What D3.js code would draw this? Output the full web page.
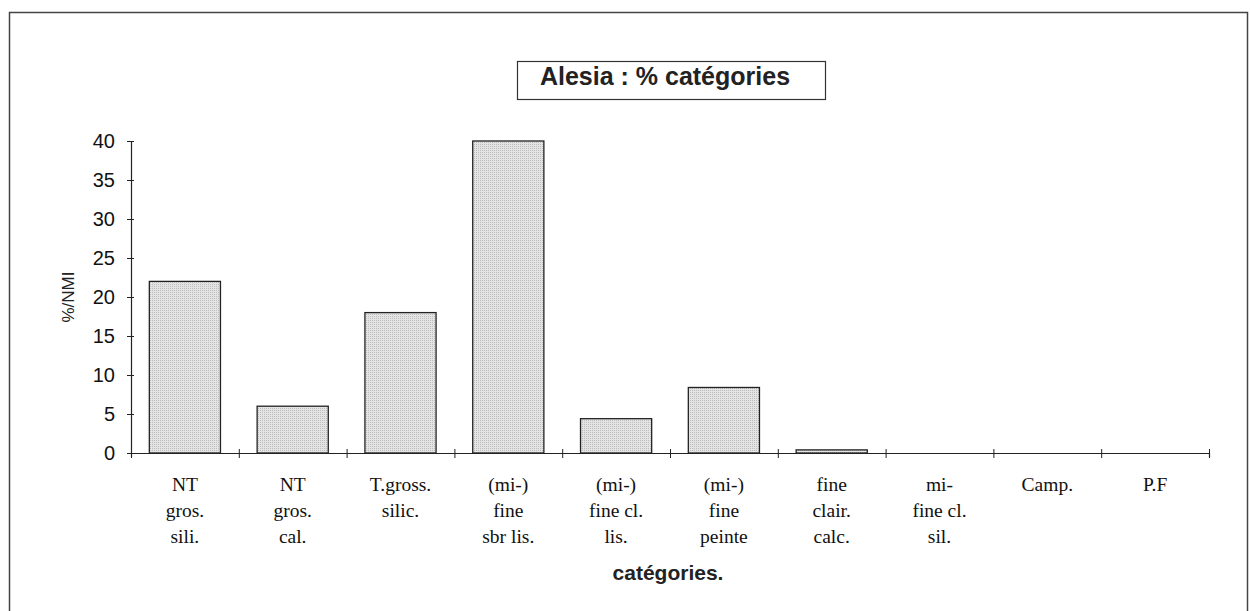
<!DOCTYPE html>
<html>
<head>
<meta charset="utf-8">
<script src="https://cdn.jsdelivr.net/npm/d3@7"></script>
<style>
    body { margin: 0; background: #fff; }
    svg { display: block; }
</style>
</head>
<body>
<div id="chart"></div>
<script>
// data
const categories = [
    ['NT', 'gros.', 'sili.'],
    ['NT', 'gros.', 'cal.'],
    ['T.gross.', 'silic.'],
    ['(mi-)', 'fine', 'sbr lis.'],
    ['(mi-)', 'fine cl.', 'lis.'],
    ['(mi-)', 'fine', 'peinte'],
    ['fine', 'clair.', 'calc.'],
    ['mi-', 'fine cl.', 'sil.'],
    ['Camp.'],
    ['P.F']
];
const values = [22, 6, 18, 40, 4.4, 8.4, 0.4, 0, 0, 0];
const yTicks = [0, 5, 10, 15, 20, 25, 30, 35, 40];

const width = 1250, height = 611;
const plotLeft = 131, plotRight = 1209, plotTop = 141, plotBottom = 453;

const svg = d3.select('#chart')
    .append('svg')
    .attr('width', width)
    .attr('height', height);

// dotted grey fill like the printed bars
const defs = svg.append('defs');
const pat = defs.append('pattern')
    .attr('id', 'dots')
    .attr('width', 2).attr('height', 2)
    .attr('patternUnits', 'userSpaceOnUse');
pat.append('rect').attr('width', 2).attr('height', 2).attr('fill', '#e4e4e4');
pat.append('rect').attr('width', 1).attr('height', 1).attr('fill', '#bdbdbd');

// outer frame (right / bottom fall outside the scan)
svg.append('rect')
    .attr('x', 9.5).attr('y', 12.5)
    .attr('width', 1238).attr('height', 640)
    .attr('fill', 'none')
    .attr('stroke', '#444')
    .attr('stroke-width', 1.5);

const keys = d3.range(categories.length);
const x = d3.scaleBand()
    .domain(keys)
    .range([plotLeft, plotRight])
    .paddingInner(0.34)
    .paddingOuter(0.17);
const xEdge = d3.scaleLinear().domain([0, categories.length]).range([plotLeft, plotRight]);
const y = d3.scaleLinear().domain([0, 40]).range([plotBottom, plotTop]);

// bars
svg.append('g')
    .selectAll('rect')
    .data(values)
    .enter()
    .append('rect')
    .attr('x', (d, i) => x(i))
    .attr('y', d => y(d))
    .attr('width', x.bandwidth())
    .attr('height', d => y(0) - y(d))
    .attr('fill', 'url(#dots)')
    .attr('stroke', d => d > 0 ? '#222' : 'none')
    .attr('stroke-width', 1.3);

// y axis
const yAxis = svg.append('g')
    .attr('transform', `translate(${plotLeft},0)`)
    .call(d3.axisLeft(y).tickValues(yTicks).tickSize(4).tickPadding(12));
yAxis.select('.domain').attr('stroke', '#222').attr('stroke-width', 1.2);
yAxis.selectAll('.tick line').attr('x1', -4).attr('x2', 3).attr('stroke', '#222');
yAxis.selectAll('.tick text')
    .style('font-family', '"Liberation Sans", Arial, sans-serif')
    .style('font-size', '20px')
    .attr('fill', '#111');

// x axis: ticks at category boundaries
const xAxis = svg.append('g')
    .attr('transform', `translate(0,${plotBottom})`)
    .call(d3.axisBottom(xEdge).ticks(categories.length).tickFormat('').tickSize(4));
xAxis.select('.domain').attr('stroke', '#222').attr('stroke-width', 1.2);
xAxis.selectAll('.tick line').attr('y1', -4).attr('y2', 5).attr('stroke', '#222');

// category labels
const labels = svg.append('g')
    .selectAll('text')
    .data(categories)
    .enter()
    .append('text')
    .attr('text-anchor', 'middle')
    .style('font-family', '"Liberation Serif", "Times New Roman", serif')
    .style('font-size', '19.5px')
    .attr('fill', '#111');
labels.selectAll('tspan')
    .data((d, i) => d.map(t => ({ t, i })))
    .enter()
    .append('tspan')
    .attr('x', d => x(d.i) + x.bandwidth() / 2)
    .attr('y', (d, j) => 491 + j * 26)
    .text(d => d.t);

// axis titles
svg.append('text')
    .attr('x', (plotLeft + plotRight) / 2 - 2)
    .attr('y', 580)
    .attr('text-anchor', 'middle')
    .style('font-family', '"Liberation Sans", Arial, sans-serif')
    .style('font-size', '21px')
    .style('font-weight', 'bold')
    .attr('fill', '#222')
    .text('catégories.');

svg.append('text')
    .attr('transform', `translate(74,${(plotTop + plotBottom) / 2}) rotate(-90)`)
    .attr('text-anchor', 'middle')
    .style('font-family', '"Liberation Sans", Arial, sans-serif')
    .style('font-size', '17px')
    .attr('fill', '#222')
    .text('%/NMI');

// title box
svg.append('rect')
    .attr('x', 517.5).attr('y', 61.5)
    .attr('width', 308).attr('height', 38)
    .attr('fill', '#fff')
    .attr('stroke', '#333')
    .attr('stroke-width', 1.2);
svg.append('text')
    .attr('x', 665)
    .attr('y', 85)
    .attr('text-anchor', 'middle')
    .style('font-family', '"Liberation Sans", Arial, sans-serif')
    .style('font-size', '25px')
    .style('font-weight', 'bold')
    .attr('fill', '#222')
    .text('Alesia : % catégories');
</script>
</body>
</html>
